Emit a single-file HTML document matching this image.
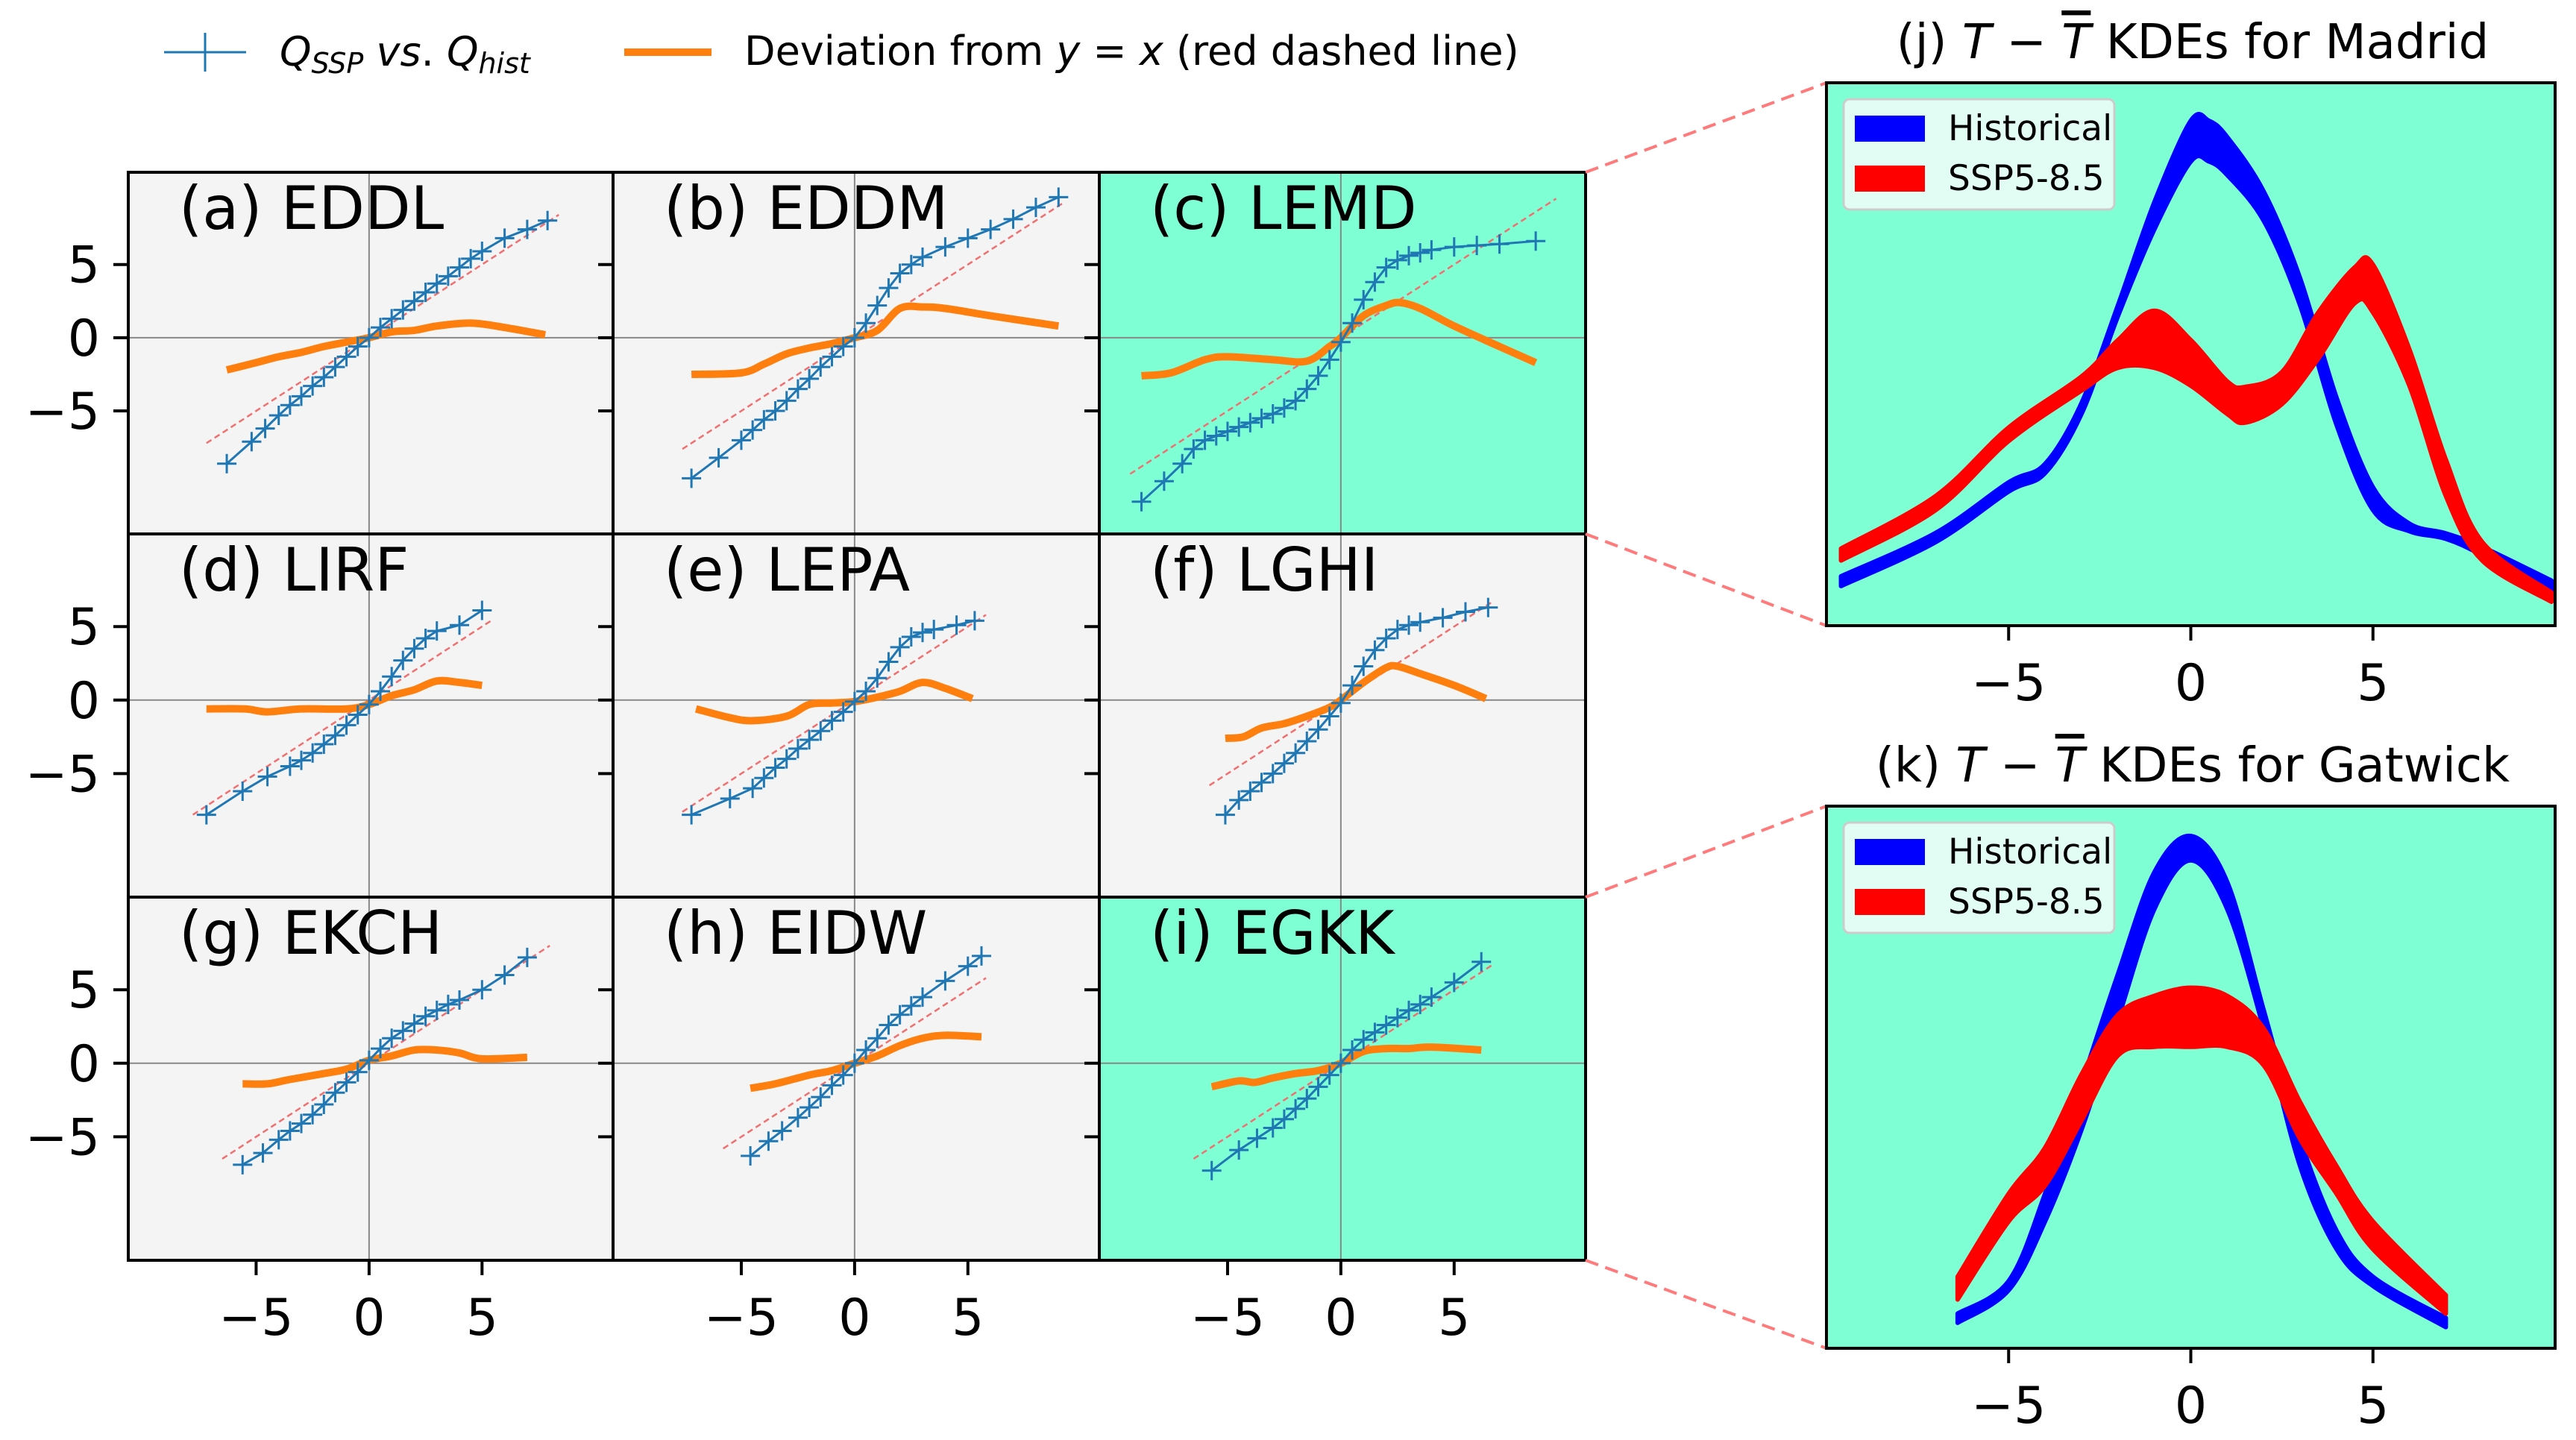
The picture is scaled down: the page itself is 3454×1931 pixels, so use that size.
<!DOCTYPE html>
<html><head><meta charset="utf-8">
<style>
html,body{margin:0;padding:0;background:#fff;}
svg{display:block;font-family:"DejaVu Sans","Liberation Sans",sans-serif;}
</style></head>
<body>
<svg id="fig" xmlns="http://www.w3.org/2000/svg" width="3454" height="1931" viewBox="0 0 3454 1931">
<rect width="3454" height="1931" fill="#fff"/>
</svg>
<script>
// ---------- Q-Q panel data ----------
const panelLabels = ["(a) EDDL","(b) EDDM","(c) LEMD","(d) LIRF","(e) LEPA","(f) LGHI","(g) EKCH","(h) EIDW","(i) EGKK"];
const panelHighlighted = [false,false,true,false,false,false,false,false,true];
const qHist = [
 [-6.3,-5.2,-4.6,-4,-3.5,-3,-2.5,-2,-1.5,-1,-0.5,0,0.5,1,1.5,2,2.5,3,3.5,4,4.5,5,6,7,7.9],
 [-7.2,-6,-5,-4.5,-4,-3.5,-3,-2.5,-2,-1.5,-1,-0.5,0,0.5,1,1.5,2,2.5,3,4,5,6,7,8,9],
 [-8.8,-7.8,-7,-6.5,-6,-5.5,-5,-4.5,-4,-3.5,-3,-2.5,-2,-1.5,-1,-0.5,0,0.5,1,1.5,2,2.5,3,3.5,4,5,6,7,8.6],
 [-7.2,-5.6,-4.5,-3.5,-3,-2.5,-2,-1.5,-1,-0.5,0,0.5,1,1.5,2,2.5,3,4,5],
 [-7.2,-5.5,-4.5,-4,-3.5,-3,-2.5,-2,-1.5,-1,-0.5,0,0.5,1,1.5,2,2.5,3,3.5,4.5,5.3],
 [-5.1,-4.5,-4,-3.5,-3,-2.5,-2,-1.5,-1,-0.5,0,0.5,1,1.5,2,2.5,3,3.5,4.5,5.5,6.5],
 [-5.6,-4.7,-4,-3.5,-3,-2.5,-2,-1.5,-1,-0.5,0,0.5,1,1.5,2,2.5,3,3.5,4,5,6,7],
 [-4.6,-3.8,-3.2,-2.5,-2,-1.5,-1,-0.5,0,0.5,1,1.5,2,2.5,3,4,5,5.6],
 [-5.7,-4.5,-3.7,-3,-2.5,-2,-1.5,-1,-0.5,0,0.5,1,1.5,2,2.5,3,3.5,4,5,6.2]
];
const qSSP = [
 [-8.6,-7.1,-6.2,-5.3,-4.6,-4,-3.3,-2.7,-2,-1.3,-0.6,0,0.7,1.3,1.9,2.5,3.1,3.7,4.2,4.8,5.4,5.9,6.8,7.4,8.0],
 [-9.6,-8.2,-7,-6.3,-5.6,-5,-4.3,-3.5,-2.8,-2,-1.3,-0.6,0,1,2.2,3.4,4.4,5,5.5,6.2,6.8,7.4,8.1,8.9,9.6],
 [-11.2,-9.8,-8.6,-7.6,-7,-6.7,-6.4,-6.1,-5.8,-5.5,-5.2,-4.8,-4.3,-3.5,-2.6,-1.5,-0.3,1,2.6,3.8,4.8,5.3,5.6,5.8,6,6.2,6.3,6.4,6.6],
 [-7.8,-6.2,-5.2,-4.5,-4.1,-3.6,-3,-2.4,-1.7,-1,-0.3,0.6,1.6,2.7,3.5,4.2,4.7,5.1,6.1],
 [-7.8,-6.7,-6,-5.3,-4.6,-4,-3.3,-2.7,-2.1,-1.4,-0.8,-0.1,0.6,1.5,2.6,3.6,4.3,4.6,4.8,5.1,5.4],
 [-7.8,-6.8,-6.2,-5.6,-5.0,-4.3,-3.6,-2.8,-2,-1.1,-0.2,1,2.3,3.4,4.2,4.8,5.1,5.3,5.6,6,6.3],
 [-6.9,-6.1,-5.2,-4.6,-4.1,-3.5,-2.8,-2,-1.3,-0.6,0.2,1,1.7,2.2,2.7,3.2,3.6,4,4.3,5,6,7.2],
 [-6.3,-5.3,-4.6,-3.7,-3,-2.3,-1.5,-0.8,0,0.9,1.7,2.6,3.3,3.9,4.5,5.6,6.6,7.3],
 [-7.3,-5.9,-5.1,-4.4,-3.8,-3.1,-2.4,-1.6,-0.8,0,0.9,1.6,2.1,2.6,3.1,3.6,4,4.5,5.5,6.9]
];
const devX = [
 [-6.3,-5,-4,-3,-2,-1,0,1,2,3,4.5,6,7.8],
 [-7.2,-5,-4,-3,-2,-1,0,1,2,3,4,6,9],
 [-8.8,-7.5,-6,-5,-3,-1.5,-0.5,0,1,2,2.6,3.5,5,7,8.6],
 [-7.2,-5.5,-4.5,-3,-1,0,1,2,3,4,5],
 [-7,-5.5,-4.5,-3,-2,-1,0,1,2,3,4,5.2],
 [-5.1,-4.3,-3.5,-2.5,-1.5,-0.5,0,1,2,2.5,3.5,5,6.4],
 [-5.6,-4.5,-3.5,-2,-1,0,1,2,3,4,5,7],
 [-4.6,-3.5,-2,-1,0,1,2,3,4,5.6],
 [-5.7,-4.5,-3.8,-3,-2,-1,0,1,2,3,4,6.2]
];
const devY = [
 [-2.2,-1.7,-1.3,-1.0,-0.6,-0.3,0,0.4,0.5,0.8,1.0,0.7,0.2],
 [-2.5,-2.4,-1.8,-1.1,-0.7,-0.4,0,0.5,2.0,2.1,2.0,1.5,0.8],
 [-2.6,-2.4,-1.5,-1.3,-1.5,-1.6,-0.6,0,1.5,2.2,2.4,2.0,0.8,-0.6,-1.7],
 [-0.6,-0.6,-0.8,-0.6,-0.6,-0.3,0.3,0.7,1.3,1.2,1.0],
 [-0.6,-1.2,-1.4,-1.1,-0.3,-0.2,-0.1,0.2,0.6,1.2,0.8,0.1],
 [-2.6,-2.5,-1.9,-1.6,-1.1,-0.5,0,1.2,2.2,2.3,1.8,1.0,0.1],
 [-1.4,-1.4,-1.1,-0.7,-0.4,0.2,0.5,0.9,0.9,0.7,0.3,0.4],
 [-1.7,-1.4,-0.8,-0.5,0,0.5,1.2,1.7,1.9,1.8],
 [-1.6,-1.2,-1.3,-1.0,-0.7,-0.5,0,0.8,1.0,1.0,1.1,0.9]
];
const refRange = [[-7.2,8.4],[-7.6,9.2],[-9.3,9.5],[-7.8,5.4],[-7.6,5.8],[-5.8,6.7],[-6.5,8],[-5.8,5.8],[-6.5,6.7]];
const qqTicks = [-5,0,5];
const qqTickLabels = ["\u22125","0","5"];

// ---------- KDE data ----------
const kdeTicks = [-5,0,5];
const kdeTickLabels = ["\u22125","0","5"];
const madridX = [-9.6,-7,-5,-4,-3,-2,-1,0,0.5,1,2,3,4,5,6,7,8,9.9];
const madridHistUp = [0.0091,0.0171,0.0264,0.0298,0.041,0.059,0.078,0.093,0.093,0.090,0.080,0.064,0.042,0.0255,0.0188,0.017,0.0145,0.0083];
const madridHistLo = [0.0073,0.0154,0.0247,0.0281,0.039,0.057,0.073,0.0855,0.0855,0.083,0.0746,0.059,0.037,0.0213,0.0174,0.016,0.0130,0.0061];
const madridSspX = [-9.6,-7,-5,-3,-2,-1,0,1,1.5,2.5,3.5,4.5,5,6,7,8,9.9];
const madridSspUp = [0.0142,0.0239,0.0365,0.0459,0.0526,0.0580,0.0526,0.045,0.044,0.0467,0.0577,0.066,0.0665,0.0509,0.0306,0.0154,0.0061];
const madridSspLo = [0.012,0.0213,0.034,0.0433,0.0475,0.0475,0.0442,0.039,0.0374,0.0408,0.0492,0.0594,0.0577,0.0442,0.0239,0.012,0.0044];
const gatwickX = [-6.4,-5,-4,-3,-2,-1,0,1,2,3,4,5,7];
const gatwickHistUp = [0.0064,0.0124,0.0285,0.0488,0.069,0.0878,0.0945,0.086,0.0624,0.0386,0.0217,0.0132,0.0056];
const gatwickHistLo = [0.0047,0.0107,0.0234,0.0403,0.0607,0.081,0.090,0.081,0.059,0.0336,0.0183,0.0115,0.0039];
const gatwickSspUp = [0.0132,0.0285,0.037,0.0505,0.0615,0.065,0.0665,0.065,0.059,0.0454,0.0336,0.0234,0.0098];
const gatwickSspLo = [0.009,0.0234,0.030,0.042,0.054,0.0556,0.0556,0.0556,0.0522,0.0386,0.0285,0.0183,0.0064];

const NS="http://www.w3.org/2000/svg";
const svg=document.getElementById('fig');
function mk(tag,attrs,parent){const e=document.createElementNS(NS,tag);for(const k in attrs)e.setAttribute(k,attrs[k]);(parent||svg).appendChild(e);return e;}
// Catmull-Rom smooth path through pixel points
function smooth(pts,start){
  let d=start?('M'+pts[0][0]+','+pts[0][1]):('L'+pts[0][0]+','+pts[0][1]);
  for(let i=0;i<pts.length-1;i++){
    const p0=pts[Math.max(0,i-1)],p1=pts[i],p2=pts[i+1],p3=pts[Math.min(pts.length-1,i+2)];
    const c1=[p1[0]+(p2[0]-p0[0])/6,p1[1]+(p2[1]-p0[1])/6];
    const c2=[p2[0]-(p3[0]-p1[0])/6,p2[1]-(p3[1]-p1[1])/6];
    d+=` C${c1[0]},${c1[1]} ${c2[0]},${c2[1]} ${p2[0]},${p2[1]}`;
  }
  return d;
}

// ---------- grid layout ----------
const colX=[172,822,1474,2126], rowY=[231,716,1203,1690];
const QX=[-10.66,10.8], QY=[-13.4,11.3];
for(let i=0;i<9;i++){
  const r=Math.floor(i/3), c=i%3;
  const L=colX[c],R=colX[c+1],T=rowY[r],B=rowY[r+1];
  const sx=v=>L+(v-QX[0])/(QX[1]-QX[0])*(R-L);
  const sy=v=>B-(v-QY[0])/(QY[1]-QY[0])*(B-T);
  const g=mk('g',{});
  
  
  const bg=mk('rect',{x:L,y:T,width:R-L,height:B-T,fill:panelHighlighted[i]?'#7fffd4':'#f4f4f4'},g);
  
  
  mk('line',{x1:sx(0),x2:sx(0),y1:T,y2:B,stroke:'#888',"stroke-width":2},g);
  mk('line',{x1:L,x2:R,y1:sy(0),y2:sy(0),stroke:'#888',"stroke-width":2},g);
  const rl=mk('line',{x1:sx(refRange[i][0]),y1:sy(refRange[i][0]),x2:sx(refRange[i][1]),y2:sy(refRange[i][1]),stroke:'#f07070',"stroke-width":2.5,"stroke-dasharray":"8,5"},g);
  
  
  const dp=mk('path',{d:smooth(devX[i].map((x,k)=>[sx(x),sy(devY[i][k])]),true),fill:'none',stroke:'#ff7f0e',"stroke-width":10,"stroke-linejoin":"round"},g);
  
  
  const qp=mk('polyline',{points:qHist[i].map((x,k)=>sx(x)+','+sy(qSSP[i][k])).join(' '),fill:'none',stroke:'#1f77b4',"stroke-width":3},g);
  
  
  qHist[i].forEach((x,k)=>{
    const px=sx(x),py=sy(qSSP[i][k]);
    const m=mk('path',{d:`M${px-13},${py}H${px+13}M${px},${py-13}V${py+13}`,stroke:'#1f77b4',"stroke-width":3},g);
    
    
  });
  mk('rect',{x:L,y:T,width:R-L,height:B-T,fill:'none',stroke:'#000',"stroke-width":4},g);
  const lab=mk('text',{x:L+68,y:T+76,"font-size":80,fill:'#000'},g);
  lab.textContent=panelLabels[i];
  
  
  qqTicks.forEach((t,k)=>{
    mk('line',{x1:L-20,x2:L,y1:sy(t),y2:sy(t),stroke:'#000',"stroke-width":4},g);
    if(c===0){const tl=mk('text',{x:L-38,y:sy(t)+24,"font-size":68,"text-anchor":"end"},g);tl.textContent=qqTickLabels[k];
      
      }
    if(r===2){mk('line',{x1:sx(t),x2:sx(t),y1:B,y2:B+20,stroke:'#000',"stroke-width":4},g);
      const tl=mk('text',{x:sx(t),y:B+100,"font-size":68,"text-anchor":"middle"},g);tl.textContent=qqTickLabels[k];
      
      }
  });
}

// ---------- connectors ----------
[[2126,231,2449,111],[2126,716,2449,839],[2126,1203,2449,1081],[2126,1690,2449,1808]].forEach(a=>{
  const l=mk('line',{x1:a[0],y1:a[1],x2:a[2],y2:a[3],stroke:'#ff7b7b',"stroke-width":4,"stroke-dasharray":"18,10"});
  
  
});

// ---------- KDE panels ----------
function kde(T,B,name,title,hx,hu,hl,sxArr,su,sl){
  const L=2449,R=3426, XL=[-10,10], YL=[0,0.1];
  const sx=v=>L+(v-XL[0])/(XL[1]-XL[0])*(R-L);
  const sy=v=>B-(v-YL[0])/(YL[1]-YL[0])*(B-T);
  const g=mk('g',{});
  
  
  mk('rect',{x:L,y:T,width:R-L,height:B-T,fill:'#7fffd4'},g);
  const band=(xs,u,lo,col,nm)=>{
    const up=xs.map((x,k)=>[sx(x),sy(u[k])]);
    const dn=xs.map((x,k)=>[sx(x),sy(lo[k])]).reverse();
    const d=smooth(up,true)+' '+smooth(dn,false)+'Z';
    const p=mk('path',{d:d,fill:col,stroke:col,"stroke-width":6,"stroke-linejoin":"round"},g);
    
    
  };
  band(hx,hu,hl,'#0000ff','historical-band');
  band(sxArr,su,sl,'#ff0000','ssp585-band');
  mk('rect',{x:L,y:T,width:R-L,height:B-T,fill:'none',stroke:'#000',"stroke-width":4},g);
  kdeTicks.forEach((t,k)=>{
    mk('line',{x1:sx(t),x2:sx(t),y1:B,y2:B+20,stroke:'#000',"stroke-width":4},g);
    const tl=mk('text',{x:sx(t),y:B+100,"font-size":68,"text-anchor":"middle"},g);tl.textContent=kdeTickLabels[k];
    
    
  });
  const tt=mk('text',{x:2940,y:T-33,"font-size":64,"text-anchor":"middle"},g);
  tt.innerHTML=title;
  
  
  const lg=mk('g',{},g);
  
  
  mk('rect',{x:2472,y:T+22,width:363,height:148,rx:8,fill:'#e2fdf4',stroke:'#cccccc',"stroke-width":3},lg);
  mk('rect',{x:2487,y:T+44,width:94,height:35,fill:'#0000ff'},lg);
  mk('rect',{x:2487,y:T+111,width:94,height:35,fill:'#ff0000'},lg);
  const t1=mk('text',{x:2612,y:T+77,"font-size":47},lg);t1.textContent='Historical';
  const t2=mk('text',{x:2612,y:T+144,"font-size":47},lg);t2.textContent='SSP5-8.5';
}
kde(111,839,'kde-madrid','(j) <tspan font-style="italic">T</tspan> − <tspan font-style="italic" text-decoration="overline">T</tspan> KDEs for Madrid',madridX,madridHistUp,madridHistLo,madridSspX,madridSspUp,madridSspLo);
kde(1081,1808,'kde-gatwick','(k) <tspan font-style="italic">T</tspan> − <tspan font-style="italic" text-decoration="overline">T</tspan> KDEs for Gatwick',gatwickX,gatwickHistUp,gatwickHistLo,gatwickX,gatwickSspUp,gatwickSspLo);

// ---------- main legend ----------
const leg=mk('g',{});


mk('line',{x1:220,x2:330,y1:70,y2:70,stroke:'#1f77b4',"stroke-width":3},leg);
mk('path',{d:'M262,70H288M275,44V96',stroke:'#1f77b4',"stroke-width":3},leg);
const lt1=mk('text',{x:375,y:88,"font-size":54},leg);
lt1.innerHTML='<tspan font-style="italic">Q</tspan><tspan font-style="italic" font-size="38" dy="10">SSP</tspan><tspan dy="-10"> </tspan><tspan font-style="italic">vs</tspan>. <tspan font-style="italic">Q</tspan><tspan font-style="italic" font-size="38" dy="10">hist</tspan>';
mk('line',{x1:837,x2:954,y1:70,y2:70,stroke:'#ff7f0e',"stroke-width":10},leg);
const lt2=mk('text',{x:998,y:87,"font-size":54},leg);
lt2.innerHTML='Deviation from <tspan font-style="italic">y</tspan> = <tspan font-style="italic">x</tspan> (red dashed line)';
</script>
</body></html>
